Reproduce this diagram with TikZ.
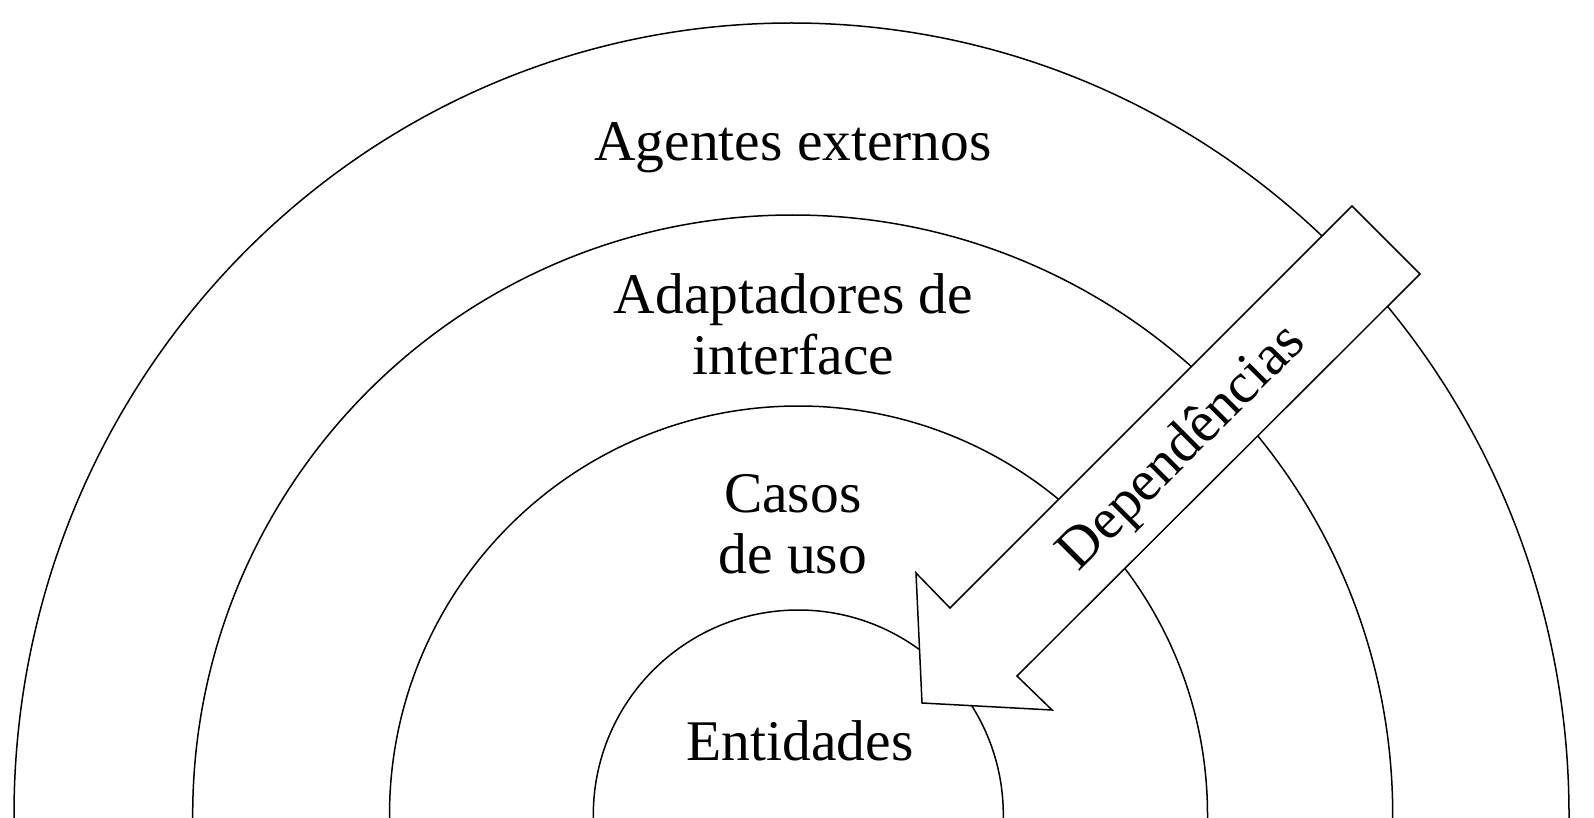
\documentclass[tikz,border=0pt]{standalone}
\usepackage{fontspec}
\setmainfont{Liberation Serif}
\begin{document}
\begin{tikzpicture}[x=1pt,y=-1pt,
  ring/.style={line width=1.5pt},
  lbl/.style={font=\fontsize{57.5}{61}\selectfont, align=center, inner sep=0pt},
  blockarrow/.style={draw, fill=white, line width=1.5pt, line join=miter}]
\clip (0,0) rectangle (1594,818);
\fill[white] (0,0) rectangle (1594,818);
% rings
\draw[ring] (791.5,815) ellipse [x radius=777.5pt, y radius=792pt];
\draw[ring] (792.7,815) circle [radius=600pt];
\draw[ring] (798.5,815) circle [radius=409pt];
\draw[ring] (798.3,815) circle [radius=205pt];
% labels
\node[lbl, anchor=base] (ext) at (793,160.6) {Agentes externos};
\node[lbl, anchor=base] (adp) at (793.5,374.5) {Adaptadores de\\interface};
\node[lbl, anchor=base] (uc) at (792.7,573.5) {Casos\\de uso};
\node[lbl, anchor=base] (ent) at (800,760) {Entidades};
% dependency arrow
\coordinate (e1) at (1352,206);
\coordinate (e2) at (1420,274);
\coordinate (n2) at (1017,676);
\coordinate (b2) at (1052,710);
\coordinate (tip) at (922,703);
\coordinate (b1) at (916,573);
\coordinate (n1) at (950,608);
\draw[blockarrow] (e1) -- (e2) -- (n2) -- (b2) -- (tip) -- (b1) -- (n1) -- cycle;
\node[lbl, rotate=45] (dep) at (1183,449) {Dependências};
\end{tikzpicture}
\end{document}
